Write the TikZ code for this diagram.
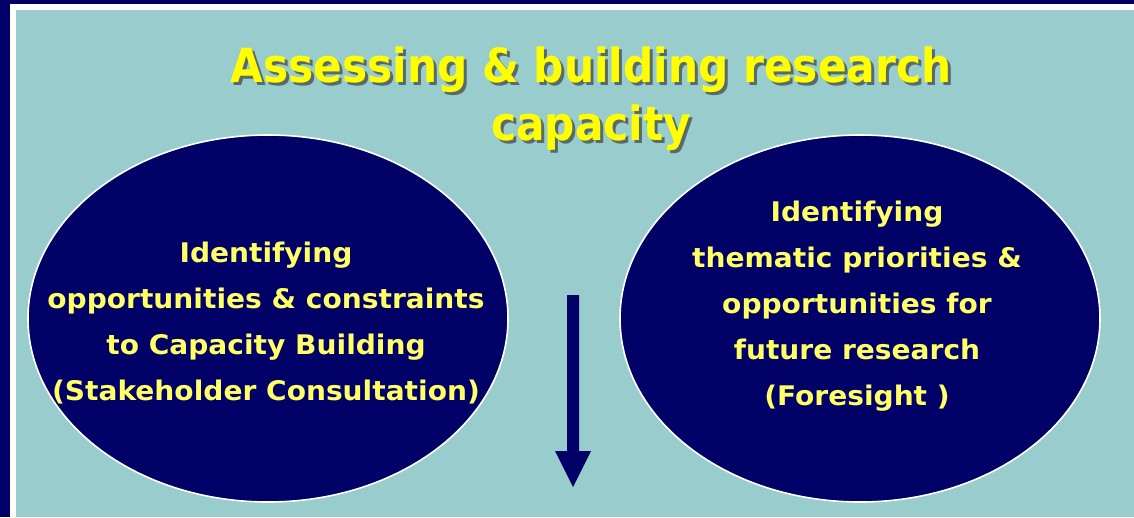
\documentclass[tikz,border=0pt]{standalone}
\usepackage{fontspec}
\usetikzlibrary{shapes.geometric}
\newfontfamily\titlefont[FakeStretch=0.9]{DejaVu Sans Bold}
\newfontfamily\bodyfont[FakeStretch=1.04]{DejaVu Sans Bold}
\definecolor{navy}{HTML}{000066}
\definecolor{bgteal}{HTML}{99CCCC}
\definecolor{titleyellow}{HTML}{FFFF00}
\definecolor{textyellow}{HTML}{FFFF66}
\begin{document}
\begin{tikzpicture}[x=1pt,y=-1pt,
  bubble/.style={ellipse, fill=navy, draw=white, line width=1.6pt, minimum width=480pt, minimum height=367pt, inner sep=0pt},
  bubbletext/.style={text=textyellow, font=\bodyfont\fontsize{27}{46}\selectfont, align=center, inner sep=0pt},
  titletext/.style={font=\titlefont\fontsize{47}{58}\selectfont, align=center, inner sep=0pt}]
\useasboundingbox (0,0) rectangle (1134,517);
\fill[navy] (0,0) rectangle (1134,517);
\fill[white] (10,4) rectangle (1134,517);
\fill[bgteal] (16,10) rectangle (1134,517);
% ellipses
\node[bubble] (left) at (268,318.5) {};
\node[bubble] (right) at (860,318.5) {};
% title
\node[titletext, text=black!75, opacity=0.7, anchor=base] (titleshadow) at (594,143) {Assessing \& building research\\capacity};
\node[titletext, text=titleyellow, anchor=base] (title) at (591,140) {Assessing \& building research\\capacity};
% texts
\node[bubbletext, anchor=base] (lefttext) at (266,400) {Identifying\\opportunities \& constraints\\to Capacity Building\\(Stakeholder Consultation)};
\node[bubbletext, anchor=base] (righttext) at (857,405) {Identifying\\thematic priorities \&\\opportunities for\\future research\\(Foresight )};
% arrow
\coordinate (atop) at (573,295);
\coordinate (atip) at (573,487);
\fill[navy] (567,295) -- (579,295) -- (579,451) -- (591,451) -- (atip) -- (555,451) -- (567,451) -- cycle;
\end{tikzpicture}
\end{document}
